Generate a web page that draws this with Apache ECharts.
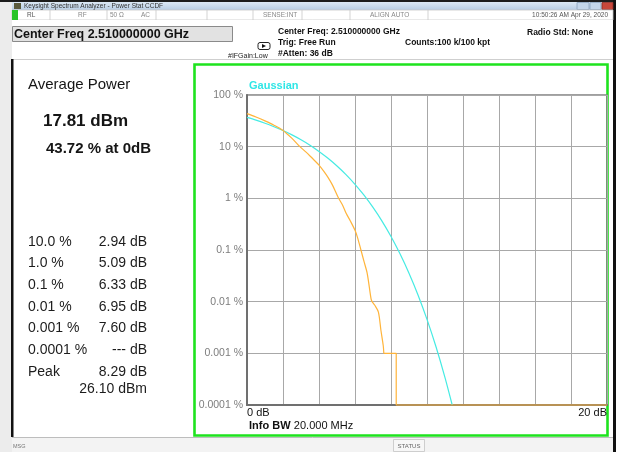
<!DOCTYPE html>
<html>
<head>
<meta charset="utf-8">
<script src="https://cdn.jsdelivr.net/npm/echarts@6/dist/echarts.min.js"></script>
<style>
html,body{margin:0;padding:0;background:#ececec;}
#c{width:621px;height:452px;}
</style>
</head>
<body>
<div id="c"></div>
<script>
// ---- data ----
// measured CCDF (dB above average, % probability)
const measDb  = [0, 0.5, 1, 1.5, 2, 2.5, 2.94, 3.25, 3.5, 3.75, 4, 4.25, 4.5, 4.75, 5.09, 5.3, 5.5, 5.75, 6, 6.15, 6.33, 6.5, 6.68, 6.89, 6.95, 7.1, 7.3, 7.44, 7.57, 7.6];
const measPct = [43.72, 37.5, 31.5, 26, 20.6, 14.5, 10, 8, 6.6, 5.4, 4.4, 3.4, 2.55, 1.8, 1.0, 0.75, 0.52, 0.36, 0.24, 0.17, 0.1, 0.06, 0.035, 0.0115, 0.01, 0.0085, 0.0063, 0.0028, 0.0014, 0.001];
// measured trace beyond the last statistic (flat, then drop at the peak)
const tailDb  = [7.6, 8.29, 8.29, 20];
const tailPct = [0.001, 0.001, 0.0001, 0.0001];
const gaussDb  = [0, 0.5, 1, 1.5, 2, 2.5, 3, 3.5, 4, 4.5, 5, 5.5, 6, 6.5, 7, 7.5, 8, 8.5, 9, 9.5, 10, 10.5, 11, 11.4];
const gaussPct = [36.8, 32.6, 28.4, 24.3, 20.5, 16.9, 13.6, 10.7, 8.1, 5.97, 4.23, 2.88, 1.87, 1.15, 0.666, 0.362, 0.182, 0.0843, 0.0355, 0.0135, 0.00454, 0.00134, 0.00034, 0.0001];
const yTickLabels = ['0.0001 %', '0.001 %', '0.01 %', '0.1 %', '1 %', '10 %', '100 %'];
const xTickLabels = ['0 dB', '20 dB'];
const statLabels = ['10.0 %', '1.0 %', '0.1 %', '0.01 %', '0.001 %', '0.0001 %', 'Peak'];
const statValues = ['2.94 dB', '5.09 dB', '6.33 dB', '6.95 dB', '7.60 dB', '--- dB', '8.29 dB'];
const peakDbm = '26.10 dBm';
const avgPower = '17.81 dBm';
const atZero = '43.72 % at 0dB';

const FONT = 'Liberation Sans, Arial, sans-serif';
const chart = echarts.init(document.getElementById('c'), null, {renderer: 'canvas'});

function txt(x, y, text, size, opts) {
  opts = opts || {};
  return {
    type: 'text', z: 50, silent: true,
    style: {
      x: x, y: y, text: text,
      font: (opts.bold ? 'bold ' : '') + size + 'px ' + FONT,
      fill: opts.color || '#1a1a1a',
      textAlign: opts.align || 'left',
      textVerticalAlign: 'middle'
    }
  };
}
function rect(x, y, w, h, fill, stroke, lw, z) {
  return {
    type: 'rect', z: z === undefined ? -5 : z, silent: true,
    shape: {x: x, y: y, width: w, height: h},
    style: {fill: fill || 'none', stroke: stroke || null, lineWidth: lw || 0}
  };
}
function line(x1, y1, x2, y2, color, lw, z) {
  return {type: 'line', z: z === undefined ? -4 : z, silent: true,
    shape: {x1: x1, y1: y1, x2: x2, y2: y2},
    style: {stroke: color, lineWidth: lw || 1}};
}

const g = [];
// desktop / frame
g.push(rect(0, 0, 621, 452, '#ececec'));
g.push(rect(0, 0, 621, 2, '#1c1c1c'));
g.push(rect(613, 0, 3, 452, '#111'));
g.push(rect(616, 0, 5, 452, '#ffffff'));
// title bar
g.push({type: 'rect', z: -5, silent: true, shape: {x: 12, y: 2, width: 601, height: 8},
  style: {fill: new echarts.graphic.LinearGradient(0, 0, 0, 1, [{offset: 0, color: '#dce8f5'}, {offset: 1, color: '#b7cce3'}])}});
g.push(rect(14, 3, 7, 6, '#5b5a3c'));
g.push(txt(24, 6, 'Keysight Spectrum Analyzer - Power Stat CCDF', 6.5, {color: '#333'}));
g.push(rect(577, 2.5, 12, 7, '#c4d6ea', '#8aa2bd', 0.8));
g.push(rect(590, 2.5, 11, 7, '#c4d6ea', '#8aa2bd', 0.8));
g.push(rect(602, 2.5, 11, 7, '#c8473a', '#8a2a22', 0.8));
// status row
g.push(rect(12, 10, 601, 10, '#ffffff', '#c8c8c8', 0.8));
g.push(rect(12, 10, 6, 10, '#27c427'));
[50, 107, 156, 207, 253, 302, 350, 428].forEach(function (x) { g.push(line(x, 10, x, 20, '#c8c8c8', 0.8)); });
g.push(txt(27, 15, 'RL', 6.5, {color: '#555'}));
g.push(txt(78, 15, 'RF', 6.5, {color: '#888'}));
g.push(txt(110, 15, '50 Ω', 6.5, {color: '#888'}));
g.push(txt(141, 15, 'AC', 6.5, {color: '#888'}));
g.push(txt(263, 15, 'SENSE:INT', 6.5, {color: '#888'}));
g.push(txt(370, 15, 'ALIGN AUTO', 6.5, {color: '#888'}));
g.push(txt(608, 15, '10:50:26 AM Apr 29, 2020', 6.5, {color: '#555', align: 'right'}));
// header info area
g.push(rect(12, 20, 601, 40, '#ffffff'));
g.push(rect(12.5, 26.5, 220, 15, '#e2e2e2', '#8a8a8a', 1));
g.push(txt(14, 34.5, 'Center Freq 2.510000000 GHz', 12.5, {bold: true, color: '#111'}));
g.push(txt(278, 32, 'Center Freq: 2.510000000 GHz', 8.5, {bold: true, color: '#111'}));
g.push(txt(278, 43, 'Trig: Free Run', 8.5, {bold: true, color: '#111'}));
g.push(txt(278, 54, '#Atten: 36 dB', 8.5, {bold: true, color: '#111'}));
g.push(txt(405, 43, 'Counts:100 k/100 kpt', 8.5, {bold: true, color: '#111'}));
g.push(txt(527, 33, 'Radio Std: None', 8.5, {bold: true, color: '#111'}));
g.push(txt(228, 56, '#IFGain:Low', 7, {color: '#222'}));
g.push({type: 'rect', z: -3, silent: true, shape: {x: 258, y: 42.5, width: 12, height: 7, r: 2},
  style: {fill: '#fff', stroke: '#222', lineWidth: 1}});
g.push({type: 'polygon', z: -2, silent: true, shape: {points: [[262, 44], [266, 46], [262, 48]]}, style: {fill: '#111'}});
// panels
g.push(rect(12, 59, 181, 378, '#ffffff'));
g.push(rect(193, 59, 420, 378, '#ffffff'));
g.push(line(12, 59.5, 613, 59.5, '#cfcfcf', 1));
g.push(rect(11, 59, 2.5, 378, '#111', null, 0, -3));
g.push(rect(194.5, 64.5, 413, 371, null, '#1ee31e', 2.6, -2));
// bottom status bar
g.push(rect(12, 437, 601, 15, '#f3f3f3'));
g.push(line(12, 437.5, 613, 437.5, '#bdbdbd', 1));
g.push(txt(13, 446, 'MSG', 5.5, {color: '#777'}));
g.push(rect(393.5, 439.5, 31, 12, '#f7f7f7', '#c4c4c4', 0.8));
g.push(txt(409, 446, 'STATUS', 6, {color: '#666', align: 'center'}));

// left panel texts
g.push(txt(28, 85, 'Average Power', 15, {color: '#151515'}));
g.push(txt(43, 121, avgPower, 17, {bold: true, color: '#151515'}));
g.push(txt(46, 149, atZero, 15, {bold: true, color: '#151515'}));
const rowY = [242, 263.5, 285, 306.8, 328.6, 350.3, 372.5];
statLabels.forEach(function (s, i) {
  g.push(txt(28, rowY[i], s, 14, {color: '#1c1c1c'}));
  g.push(txt(147, rowY[i], statValues[i], 14, {color: '#1c1c1c', align: 'right'}));
});
g.push(txt(147, 389, peakDbm, 14, {color: '#1c1c1c', align: 'right'}));

// chart annotations
g.push(txt(249, 86, 'Gaussian', 11, {bold: true, color: '#2ee6e6'}));
g.push({type: 'text', z: 50, silent: true, style: {
  x: 249, y: 426, text: '{b|Info BW} {r|20.000 MHz}', textVerticalAlign: 'middle',
  rich: {b: {font: 'bold 11px ' + FONT, fill: '#111'}, r: {font: '11px ' + FONT, fill: '#111'}}
}});

function zip(a, b) { return a.map(function (v, i) { return [v, b[i]]; }); }
const ORANGE = '#ffb43a';

chart.setOption({
  animation: false,
  backgroundColor: '#ececec',
  graphic: {elements: g},
  grid: {left: 247, top: 95, width: 360, height: 310, show: true,
    borderColor: '#808080', borderWidth: 1.5, backgroundColor: 'transparent', containLabel: false},
  xAxis: {
    type: 'value', min: 0, max: 20, interval: 2,
    axisLine: {show: true, onZero: false, lineStyle: {color: '#707070', width: 2}},
    axisTick: {show: false},
    splitLine: {show: true, lineStyle: {color: '#a8a8a8', width: 1}},
    axisLabel: {
      show: true, margin: 2, color: '#111', fontSize: 11, fontFamily: FONT,
      alignMinLabel: 'left', alignMaxLabel: 'right',
      formatter: function (v) { return v === 0 ? xTickLabels[0] : (v === 20 ? xTickLabels[1] : ''); }
    }
  },
  yAxis: {
    type: 'log', logBase: 10, min: 0.0001, max: 100,
    axisLine: {show: true, lineStyle: {color: '#707070', width: 2}},
    axisTick: {show: false},
    splitLine: {show: true, lineStyle: {color: '#a8a8a8', width: 1}},
    axisLabel: {
      margin: 4, color: '#7d7d7d', fontSize: 10.5, fontFamily: FONT,
      formatter: function (v) {
        const k = Math.round(Math.log10(v)) + 4;
        return yTickLabels[k] || '';
      }
    }
  },
  series: [
    {type: 'line', name: 'Gaussian', data: zip(gaussDb, gaussPct), showSymbol: false, smooth: 0.3,
      clip: false, z: 5, lineStyle: {color: '#45ebe3', width: 1.2}},
    {type: 'line', name: 'Measured', data: zip(measDb, measPct), showSymbol: false, smooth: 0.3,
      clip: false, z: 6, lineStyle: {color: ORANGE, width: 1.2}},
    {type: 'line', name: 'Measured tail', data: zip(tailDb, tailPct), showSymbol: false,
      clip: false, z: 6, lineStyle: {color: ORANGE, width: 1.2}}
  ]
});
</script>
</body>
</html>
